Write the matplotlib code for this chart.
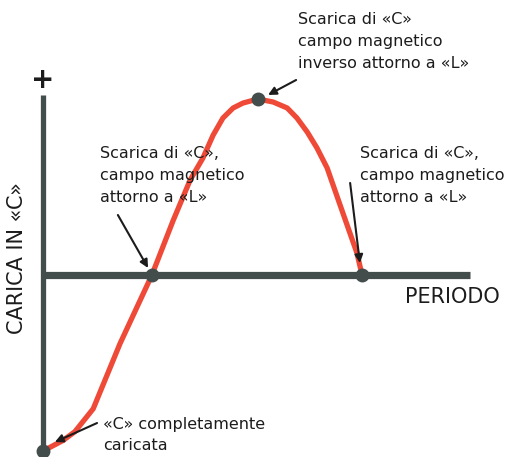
#!/usr/bin/env python3
"""
Carica del condensatore in un circuito LC (schema didattico)
"""

import matplotlib
matplotlib.use('Agg')
import matplotlib.pyplot as plt

# Curve: time as fraction of the period, charge normalised to 1
periodo = [0.0, 0.047, 0.075, 0.118, 0.181, 0.256, 0.306, 0.346, 0.376,
           0.400, 0.423, 0.447, 0.470, 0.505, 0.541, 0.574, 0.597, 0.621,
           0.644, 0.668, 0.682, 0.705, 0.738, 0.75]
carica = [-1.0, -0.94, -0.89, -0.76, -0.39, 0.0, 0.31, 0.54, 0.665,
          0.795, 0.892, 0.949, 0.977, 1.0, 0.983, 0.949, 0.892, 0.813,
          0.722, 0.608, 0.511, 0.352, 0.125, 0.0]

# Marked instants (indices into the curve)
punti = [0, 5, 13, 23]

# Annotation texts
testo_picco = ['Scarica di «C»', 'campo magnetico', 'inverso attorno a «L»']
testo_zero1 = ['Scarica di «C»,', 'campo magnetico', 'attorno a «L»']
testo_zero2 = ['Scarica di «C»,', 'campo magnetico', 'attorno a «L»']
testo_inizio = ['«C» completamente', 'caricata']
etichetta_y = 'CARICA IN «C»'
etichetta_x = 'PERIODO'

RED = '#ef4a38'
AXIS = '#434d4b'
INK = '#1c1c1c'

fig = plt.figure(figsize=(5.19, 4.57), dpi=100)
ax = fig.add_axes([0, 0, 1, 1])
ax.set_xlim(-0.1011, 1.119)
ax.set_ylim(-1.034, 1.5625)
ax.axis('off')

# Axes of the diagram
ax.plot([0, 0], [-0.99, 1.023], color=AXIS, lw=3.8, solid_capstyle='butt', zorder=2)
ax.plot([0, 1.004], [0, 0], color=AXIS, lw=5.2, solid_capstyle='butt', zorder=2)
ax.text(0, 1.108, '+', ha='center', va='center', fontsize=20,
        fontweight='bold', color=INK)

# Charge curve
ax.plot(periodo, carica, color=RED, lw=3.8, solid_capstyle='round',
        solid_joinstyle='round', zorder=3)
ax.plot([periodo[i] for i in punti], [carica[i] for i in punti], 'o',
        color=AXIS, markersize=9, zorder=4)

# Labels
ax.text(-0.061, 0.097, etichetta_y, rotation=90, ha='center', va='center',
        fontsize=15, color=INK)
ax.text(0.851, -0.125, etichetta_x, ha='left', va='center', fontsize=15,
        color=INK)

def blocco(righe, x, y0, dy=-0.125):
    for k, riga in enumerate(righe):
        ax.text(x, y0 + k * dy, riga, ha='left', va='center', fontsize=11.5,
                color=INK)

def freccia(tail, head):
    ax.annotate('', xy=head, xytext=tail,
                arrowprops=dict(arrowstyle='-|>', color=INK, lw=1.5,
                                mutation_scale=12, shrinkA=0, shrinkB=0),
                zorder=5)

blocco(testo_picco, 0.5995, 1.449)
freccia((0.595, 1.108), (0.529, 1.023))

blocco(testo_zero1, 0.134, 0.693)
freccia((0.176, 0.341), (0.247, 0.04))

blocco(testo_zero2, 0.745, 0.693)
freccia((0.722, 0.523), (0.745, 0.068))

blocco(testo_inizio, 0.141, -0.847, dy=-0.119)
freccia((0.127, -0.841), (0.028, -0.949))

fig.savefig('out.png', dpi=100)
